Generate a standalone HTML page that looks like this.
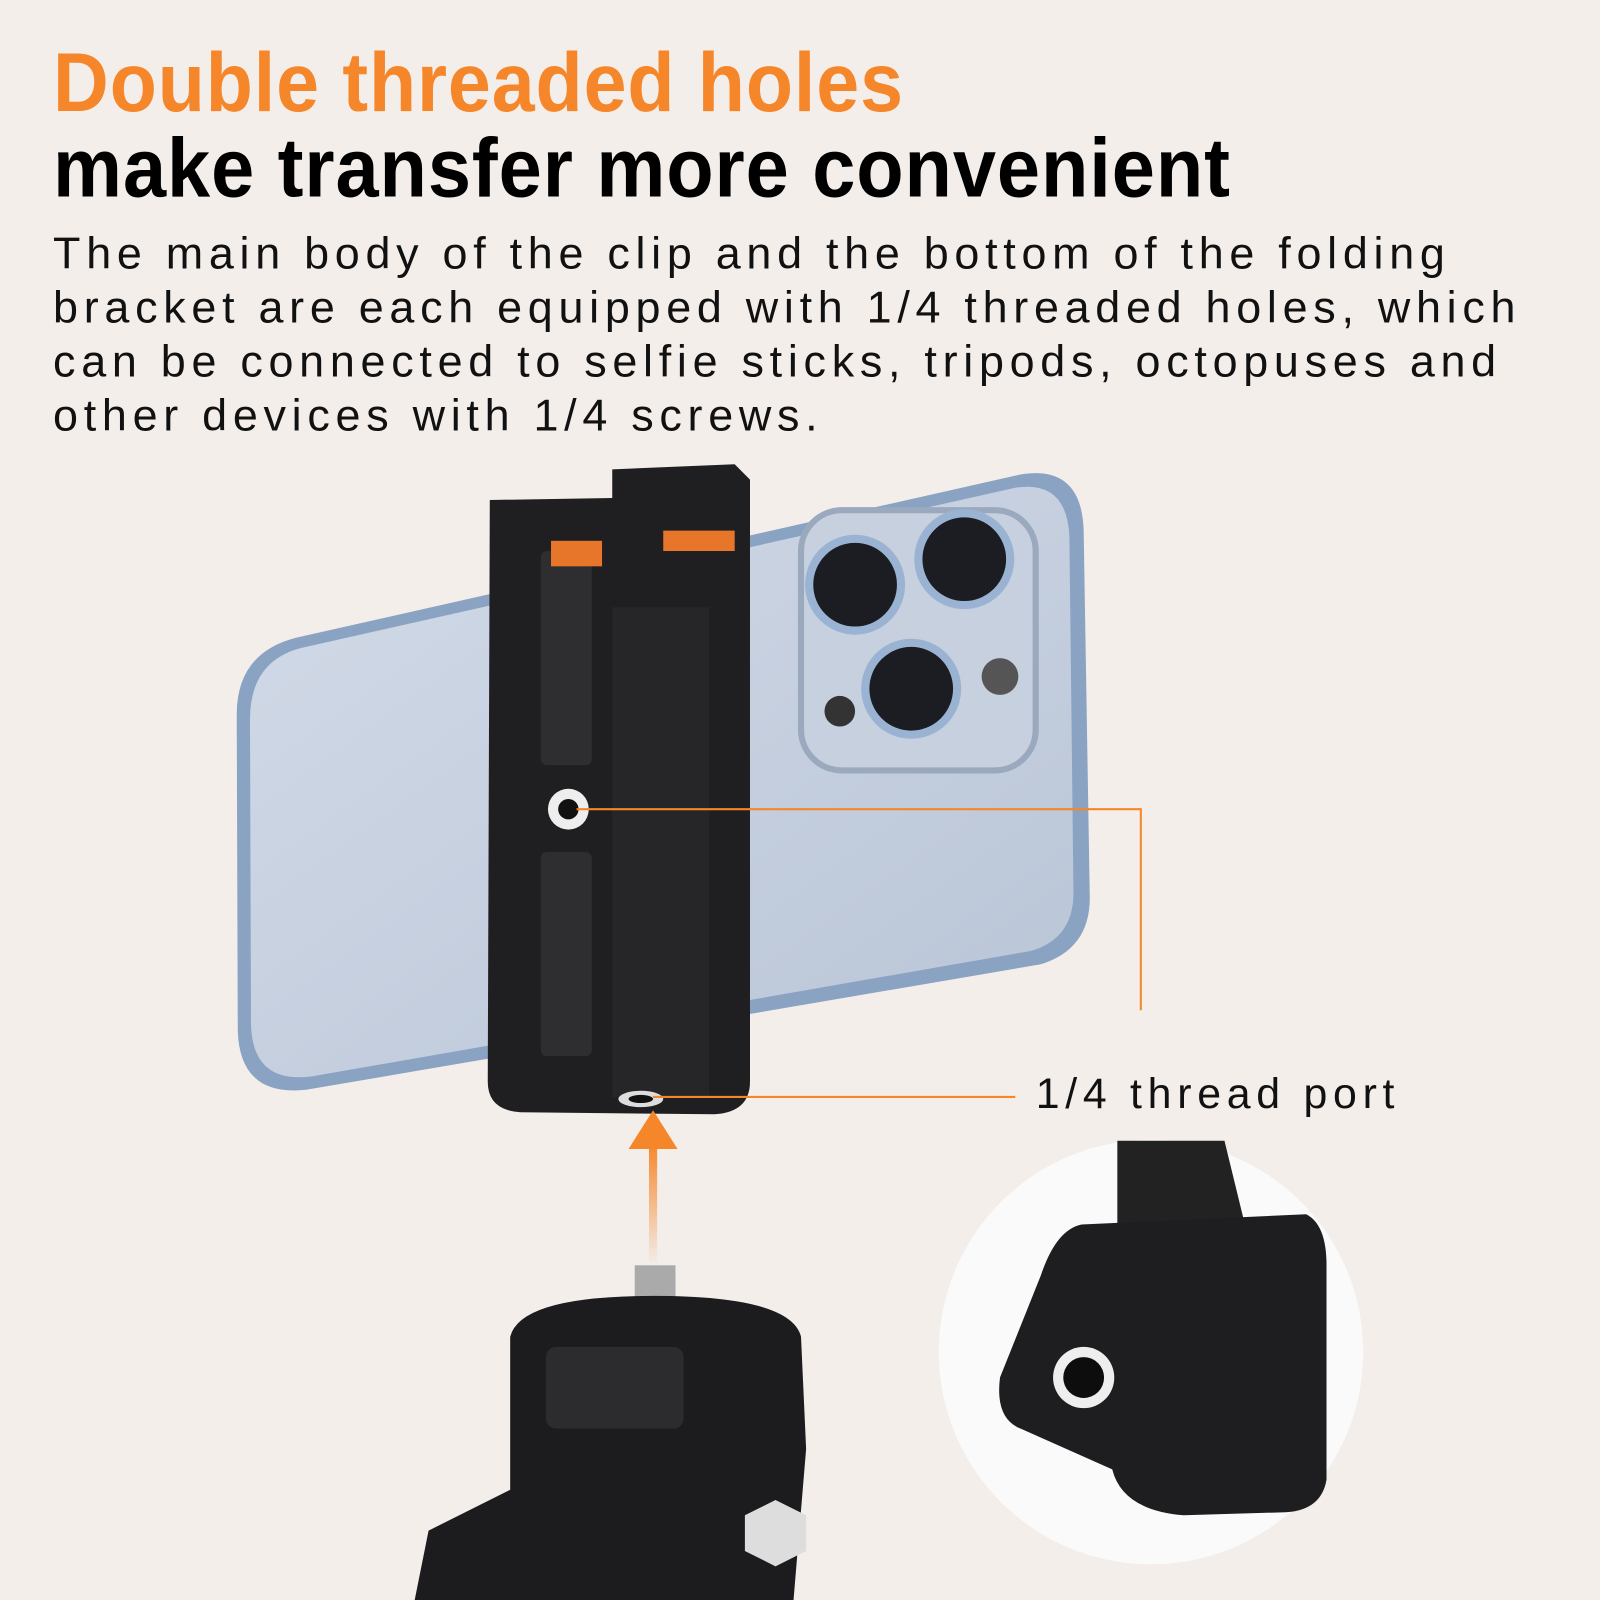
<!DOCTYPE html>
<html><head><meta charset="utf-8"><style>
html,body{margin:0;padding:0}
body{width:1600px;height:1600px;background:#f4eeeb;overflow:hidden;font-family:"Liberation Sans",sans-serif}
#w{position:absolute;left:0;top:0;width:1568px;height:1568px;transform:scale(1.0204);transform-origin:0 0}
.t1,.t2{position:absolute;left:52px;font-weight:bold;white-space:nowrap;transform-origin:0 0;letter-spacing:1px}
.t1{top:34px;font-size:84px;color:#f5862a;transform:scaleX(0.9) scaleY(0.97)}
.t2{top:118px;font-size:84px;color:#000;transform:scaleX(0.905) scaleY(0.97)}
.body{position:absolute;left:52px;top:222px;font-size:44px;line-height:53px;letter-spacing:5.6px;color:#111;white-space:nowrap}
.lab{position:absolute;left:1015px;top:1048px;font-size:42px;letter-spacing:5.6px;color:#111;white-space:nowrap}
svg{position:absolute;left:0;top:0}
</style></head><body><div id="w">
<div class="t1">Double threaded holes</div>
<div class="t2">make transfer more convenient</div>
<div class="body">The main body of the clip and the bottom of the folding<br>bracket are each equipped with 1/4 threaded holes, which<br>can be connected to selfie sticks, tripods, octopuses and<br>other devices with 1/4 screws.</div>
<svg width="1568" height="1568" viewBox="0 0 1568 1568">
<defs>
<linearGradient id="ph" x1="0" y1="0" x2="1" y2="1"><stop offset="0" stop-color="#d3dbe8"/><stop offset="1" stop-color="#b8c4d6"/></linearGradient>
<linearGradient id="ar" x1="0" y1="1" x2="0" y2="0"><stop offset="0" stop-color="#f5862a" stop-opacity="0"/><stop offset="1" stop-color="#f5862a"/></linearGradient>
</defs>
<path d="M290 625 L1000 465 Q1060 455 1062 520 L1068 880 Q1068 930 1020 945 L300 1068 Q235 1075 233 1010 L232 700 Q232 640 290 625Z" fill="#8aa3c3"/>
<path d="M295 635 L995 478 Q1045 470 1048 525 L1052 875 Q1052 920 1010 932 L305 1055 Q248 1062 246 1005 L245 705 Q245 648 295 635Z" fill="url(#ph)"/>
<rect x="785" y="500" width="230" height="255" rx="40" fill="#c6d0de" stroke="#9aa9bd" stroke-width="6"/>
<g fill="#1b1d22" stroke="#9bb3d3" stroke-width="8">
<circle cx="838" cy="573" r="45"/><circle cx="945" cy="548" r="45"/><circle cx="893" cy="675" r="45"/>
</g>
<circle cx="980" cy="663" r="18" fill="#555"/><circle cx="823" cy="697" r="15" fill="#333"/>
<path d="M480 490 L600 488 L600 460 L720 455 L735 470 L735 1060 Q735 1090 700 1092 L510 1090 Q478 1088 478 1060Z" fill="#1f1f21"/>
<rect x="530" y="540" width="50" height="210" rx="6" fill="#2e2e30"/>
<rect x="530" y="835" width="50" height="200" rx="6" fill="#2e2e30"/>
<rect x="540" y="530" width="50" height="25" fill="#e8762a"/>
<rect x="650" y="520" width="70" height="20" fill="#e8762a"/>
<rect x="600" y="595" width="95" height="480" fill="#262628"/>
<circle cx="557" cy="793" r="20" fill="#eee"/><circle cx="557" cy="793" r="10" fill="#111"/>
<ellipse cx="628" cy="1077" rx="22" ry="8" fill="#ddd"/><ellipse cx="628" cy="1077" rx="12" ry="4" fill="#111"/>
<polyline points="565,793 1118,793 1118,990" fill="none" stroke="#f5862a" stroke-width="2"/>
<line x1="640" y1="1075" x2="995" y2="1075" stroke="#f5862a" stroke-width="2"/>
<rect x="636" y="1120" width="8" height="120" fill="url(#ar)"/>
<polygon points="640,1088 616,1126 664,1126" fill="#f5862a"/>
<rect x="622" y="1240" width="40" height="35" fill="#aaa"/>
<path d="M500 1310 Q510 1270 640 1270 Q775 1270 785 1310 L790 1420 L775 1600 L400 1600 L420 1500 L500 1460Z" fill="#1c1c1e"/>
<rect x="535" y="1320" width="135" height="80" rx="10" fill="#2c2c2e"/>
<polygon points="760,1470 790,1485 790,1520 760,1535 730,1520 730,1485" fill="#ddd"/>
<circle cx="1128" cy="1325" r="208" fill="#fafafa"/>
<path d="M1095 1118 L1200 1118 L1220 1200 L1095 1200Z" fill="#222"/>
<path d="M1060 1200 L1280 1190 Q1300 1200 1300 1240 L1300 1450 Q1295 1480 1260 1482 L1160 1485 Q1100 1480 1090 1440 L1000 1400 Q975 1390 980 1350 L1020 1250 Q1035 1205 1060 1200Z" fill="#1e1e20"/>
<circle cx="1062" cy="1350" r="30" fill="#eee"/><circle cx="1062" cy="1350" r="20" fill="#0d0d0d"/>
</svg>
<div class="lab">1/4 thread port</div>
</div></body></html>
